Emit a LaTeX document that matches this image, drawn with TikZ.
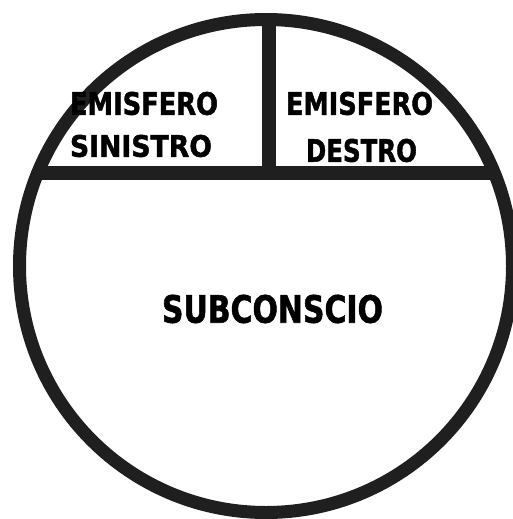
\documentclass[tikz,border=0pt]{standalone}
\usepackage{fontspec}
\setmainfont{DejaVu Sans}
\newfontfamily\heavyfont{DejaVu Sans}[UprightFont={* Bold},AutoFakeBold=0,FakeBold=1.6]
\newcommand{\fitlbl}[3]{\resizebox{#1pt}{#2pt}{\heavyfont #3}}
\begin{document}
\begin{tikzpicture}[x=1pt,y=-1pt,
  ring/.style={line width=13pt,draw=black!88},
  bar/.style={line width=13.5pt,draw=black!88},
  lbl/.style={inner sep=0pt,anchor=center}]
\useasboundingbox (0,0) rectangle (513,519);
\coordinate (c) at (266,266);
\begin{scope}
  \clip (c) circle (250);
  \draw[bar] (0,173) -- (520,173);
  \draw[bar] (269,0) -- (269,173);
\end{scope}
\draw[ring] (c) circle (246.5);
\node[lbl] (ls1) at (144,103.5) {\fitlbl{148}{23}{EMISFERO}};
\node[lbl] (ls2) at (141,146) {\fitlbl{142}{22}{SINISTRO}};
\node[lbl] (rd1) at (359.5,103.5) {\fitlbl{147}{23}{EMISFERO}};
\node[lbl] (rd2) at (361.5,150.5) {\fitlbl{111}{23}{DESTRO}};
\node[lbl] (sub) at (272.5,309) {\fitlbl{221}{28}{SUBCONSCIO}};
\end{tikzpicture}
\end{document}
